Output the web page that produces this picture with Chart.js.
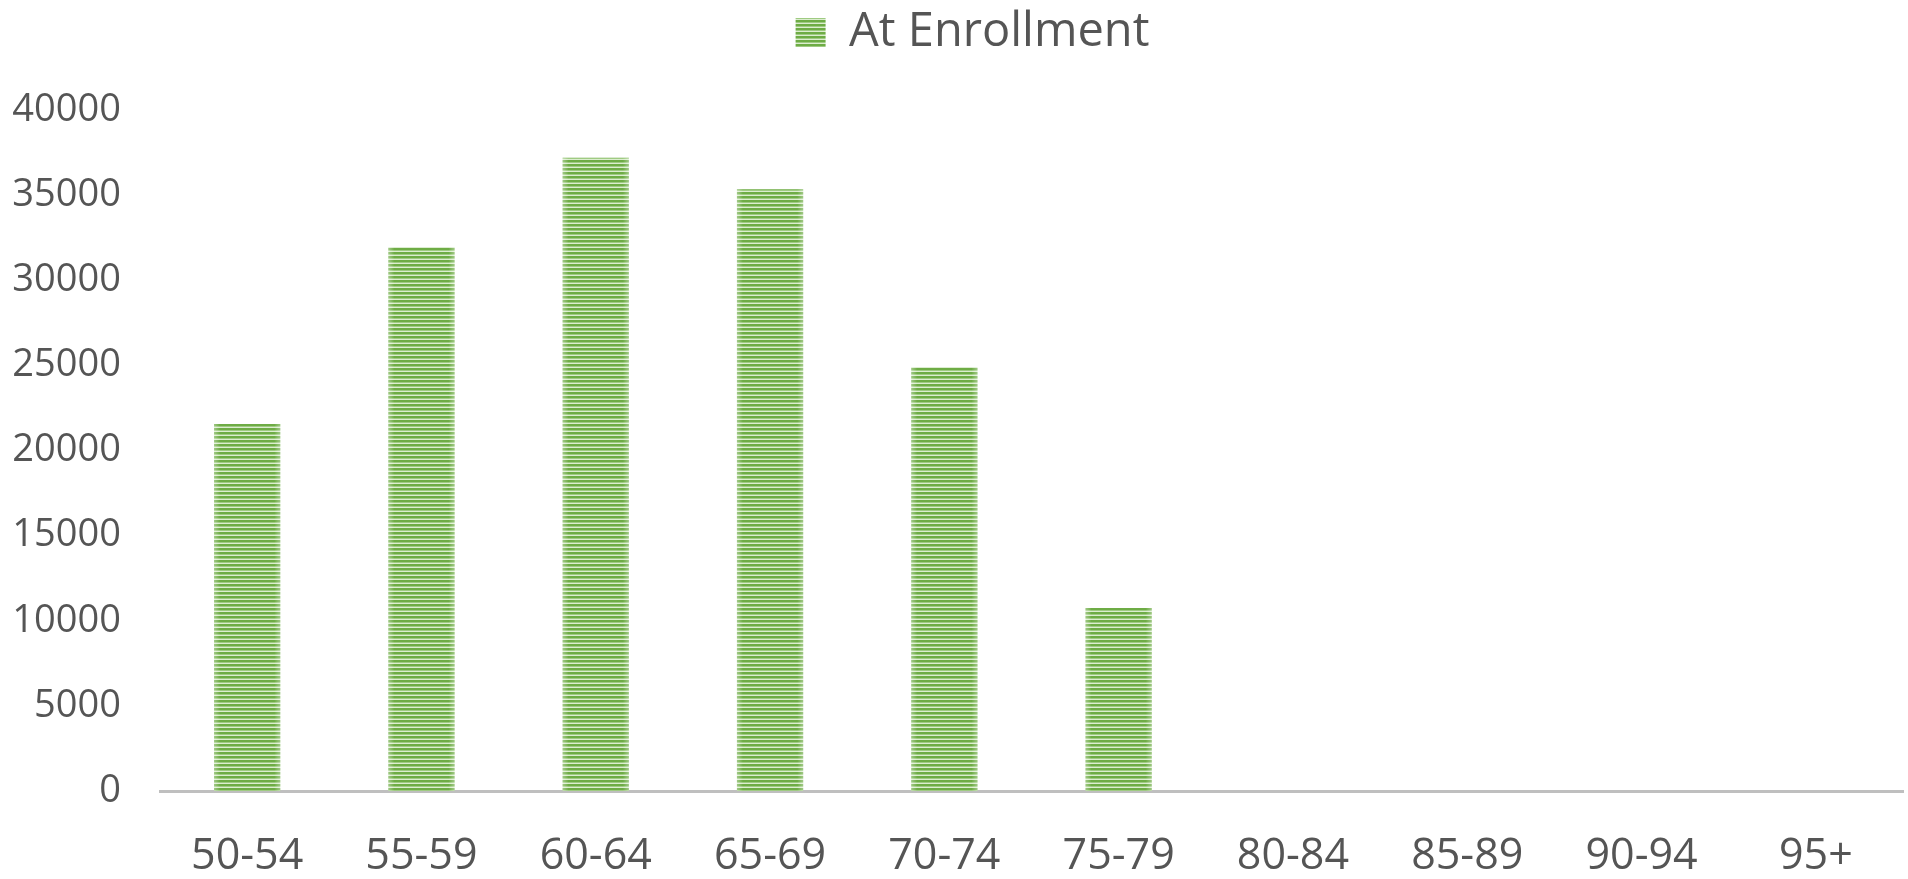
<!DOCTYPE html>
<html>
<head>
<meta charset="utf-8">
<script src="https://cdn.jsdelivr.net/npm/chart.js@4.4.1/dist/chart.umd.min.js"></script>
<style>
  html, body { margin: 0; padding: 0; background: #ffffff; }
  #wrap { width: 1908px; height: 879px; }
</style>
</head>
<body>
<div id="wrap"><canvas id="c" width="1908" height="879"></canvas></div>
<script>
// ---- data ----
const categories = ["50-54", "55-59", "60-64", "65-69", "70-74", "75-79", "80-84", "85-89", "90-94", "95+"];
const seriesLabel = "At Enrollment";
const enrollmentValues = [21550, 31950, 37200, 35350, 24900, 10750, 0, 0, 0, 0];
const yTickValues = [0, 5000, 10000, 15000, 20000, 25000, 30000, 35000, 40000];

// ---- striped fill pattern ----
function makeStripePattern() {
  const pc = document.createElement('canvas');
  pc.width = 8; pc.height = 4;
  const g = pc.getContext('2d');
  g.fillStyle = '#6eac45'; g.fillRect(0, 0, 8, 2);
  g.fillStyle = '#9fcb82'; g.fillRect(0, 2, 8, 1);
  g.fillStyle = '#dcedd0'; g.fillRect(0, 3, 8, 1);
  return document.getElementById('c').getContext('2d').createPattern(pc, 'repeat');
}
const stripe = makeStripePattern();

// soft light edges on each bar, like the reference
const edgeFade = {
  id: 'edgeFade',
  afterDatasetsDraw(chart) {
    const ctx = chart.ctx;
    const meta = chart.getDatasetMeta(0);
    meta.data.forEach(bar => {
      const w = bar.width, left = bar.x - w / 2, right = bar.x + w / 2;
      const top = Math.min(bar.y, bar.base), h = Math.abs(bar.base - bar.y);
      if (h < 1) return;
      const fw = 6;
      let gr = ctx.createLinearGradient(left, 0, left + fw, 0);
      gr.addColorStop(0, 'rgba(255,255,255,0.35)');
      gr.addColorStop(1, 'rgba(255,255,255,0)');
      ctx.fillStyle = gr; ctx.fillRect(left, top, fw, h);
      gr = ctx.createLinearGradient(right - fw, 0, right, 0);
      gr.addColorStop(0, 'rgba(255,255,255,0)');
      gr.addColorStop(1, 'rgba(255,255,255,0.35)');
      ctx.fillStyle = gr; ctx.fillRect(right - fw, top, fw, h);
    });
  }
};

// reserve the space between legend and plot, and nudge the legend like the reference
const legendSpace = {
  id: 'legendSpace',
  beforeLayout(chart) {
    const lg = chart.legend;
    if (lg && !lg._spacePatched) {
      const f = lg.fit;
      lg.fit = function () { f.call(this); this.height = 110; };
      lg._spacePatched = true;
    }
  },
  afterLayout(chart) {
    const lg = chart.legend;
    if (lg) { lg.left += 21; lg.right += 21; lg.adjustHitBoxes && lg.adjustHitBoxes(); }
  }
};

const textColor = '#555555';
const fontFamily = '"Open Sans", "Liberation Sans", sans-serif';

new Chart(document.getElementById('c'), {
  type: 'bar',
  data: {
    labels: categories,
    datasets: [{
      label: seriesLabel,
      data: enrollmentValues,
      backgroundColor: stripe,
      borderWidth: 0,
      categoryPercentage: 1.0,
      barPercentage: 0.38
    }]
  },
  options: {
    responsive: false,
    animation: false,
    layout: { padding: { left: 0, right: 5, top: 0, bottom: 0 } },
    plugins: {
      legend: {
        display: true,
        position: 'top',
        labels: {
          color: textColor,
          font: { family: fontFamily, size: 47 },
          boxWidth: 30,
          boxHeight: 29,
          padding: 9
        }
      },
      tooltip: { enabled: false }
    },
    scales: {
      x: {
        grid: { display: false, drawTicks: false },
        border: { display: true, color: '#bfbfbf', width: 3 },
        ticks: {
          color: textColor,
          font: { family: fontFamily, size: 43 },
          padding: 40,
          maxRotation: 0,
          autoSkip: false
        },
        afterFit(scale) { scale.height = 88; }
      },
      y: {
        min: 0,
        max: 40000,
        grid: { display: false, drawTicks: false },
        border: { display: false },
        afterBuildTicks(scale) { scale.ticks = yTickValues.map(v => ({ value: v })); },
        ticks: {
          color: textColor,
          font: { family: fontFamily, size: 38 },
          padding: 39,
          callback: (v) => String(v)
        },
        afterFit(scale) { scale.width = 160; }
      }
    }
  },
  plugins: [edgeFade, legendSpace]
});
</script>
</body>
</html>
